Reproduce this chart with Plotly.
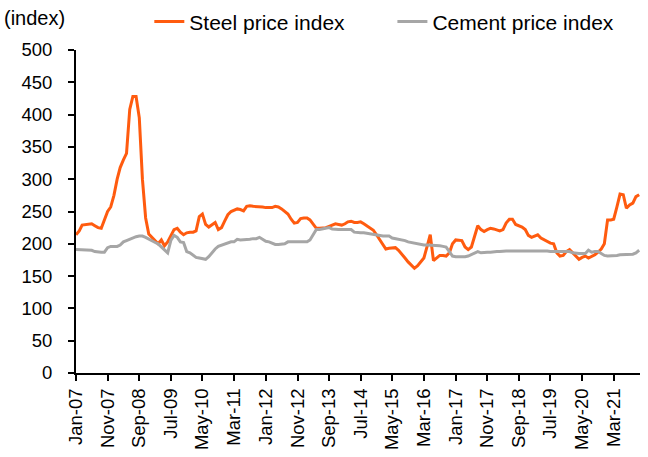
import pandas as pd
import plotly.graph_objects as go

start_month = "2007-01-01"
steel = [214, 220, 229, 230, 231, 231, 228, 225, 224, 236,
         250, 257, 275, 300, 318, 330, 340, 408, 428, 428,
         395, 300, 240, 215, 210, 205, 200, 206, 197, 203,
         212, 222, 224, 218, 214, 217, 218, 218, 220, 242,
         246, 230, 226, 229, 233, 222, 225, 235, 245, 250,
         252, 254, 253, 251, 258, 259, 258, 258, 257, 257,
         256, 256, 256, 258, 257, 254, 250, 246, 238, 232,
         233, 239, 240, 240, 237, 230, 224, 224, 224, 225,
         227, 229, 231, 230, 229, 231, 234, 235, 233, 233,
         234, 231, 228, 224, 221, 214, 206, 198, 192, 193,
         194, 194, 190, 183, 178, 172, 167, 162, 166, 172,
         178, 196, 214, 174, 178, 182, 182, 181, 186, 200,
         206, 205, 205, 195, 191, 195, 210, 228, 222, 219,
         222, 224, 223, 222, 220, 222, 232, 238, 238, 230,
         228, 226, 222, 213, 210, 212, 214, 209, 206, 204,
         201, 200, 186, 181, 182, 188, 191, 186, 181, 176,
         179, 181, 178, 180, 183, 187, 192, 200, 237, 237,
         238, 257, 277, 276, 255, 260, 263, 273, 276]
cement = [191, 191, 191, 191, 190, 190, 188, 187, 187, 187,
          194, 196, 196, 196, 198, 203, 205, 207, 210, 211,
          212, 212, 210, 207, 204, 202, 200, 195, 191, 186,
          205, 213, 210, 203, 202, 188, 186, 183, 179, 178,
          177, 176, 180, 186, 192, 196, 198, 199, 202, 203,
          203, 207, 206, 206, 206, 207, 208, 208, 210, 207,
          204, 203, 201, 199, 199, 199, 200, 203, 203, 203,
          203, 203, 203, 203, 206, 214, 222, 222, 223, 223,
          225, 223, 222, 222, 222, 222, 222, 222, 218, 217,
          217, 217, 216, 215, 214, 213, 213, 212, 212, 212,
          209, 208, 207, 207, 205, 203, 202, 200, 199, 198,
          198, 198, 198, 198, 198, 197, 196, 195, 188, 181,
          180, 180, 179, 180, 181, 183, 186, 188, 186, 187,
          187, 187, 188, 188, 188, 189, 189, 189, 189, 190,
          190, 190, 189, 189, 189, 189, 189, 189, 189, 189,
          188, 188, 188, 188, 188, 188, 188, 186, 185, 185,
          185, 185, 190, 187, 188, 188, 185, 182, 181, 181,
          181, 182, 183, 183, 183, 183, 184, 186, 190]
series_names = ["Steel price index", "Cement price index"]
tick_labels = ["Jan-07", "Nov-07", "Sep-08", "Jul-09", "May-10", "Mar-11",
               "Jan-12", "Nov-12", "Sep-13", "Jul-14", "May-15", "Mar-16",
               "Jan-17", "Nov-17", "Sep-18", "Jul-19", "May-20", "Mar-21"]

dates = pd.date_range(start_month, periods=len(steel), freq="MS")
tick_dates = pd.date_range(start_month, periods=len(tick_labels), freq="10MS")

font = "Liberation Sans, Arial, sans-serif"
fig = go.Figure()
fig.add_trace(go.Scatter(x=dates, y=steel, mode="lines", name=series_names[0],
                         line=dict(color="#FF5B0F", width=3), legend="legend"))
fig.add_trace(go.Scatter(x=dates, y=cement, mode="lines", name=series_names[1],
                         line=dict(color="#A6A6A6", width=3), legend="legend2"))

leg_common = dict(orientation="h", yanchor="middle", xanchor="left",
                  font=dict(size=21, family=font), bgcolor="rgba(0,0,0,0)")
fig.update_layout(
    width=648, height=457,
    margin=dict(l=76, r=8, t=50, b=84, autoexpand=False),
    paper_bgcolor="white", plot_bgcolor="white",
    font=dict(family=font, size=18.5, color="black"),
    showlegend=True,
    legend=dict(x=0.13, y=1.087, **leg_common),
    legend2=dict(x=0.561, y=1.087, **leg_common),
    annotations=[dict(text="(index)", xref="paper", yref="paper", x=-0.131, y=1.099,
                      xanchor="left", yanchor="middle", showarrow=False,
                      font=dict(size=20, family=font))],
)
fig.update_xaxes(
    range=[dates[0], dates[-1] + pd.Timedelta(days=8)],
    tickvals=tick_dates, ticktext=tick_labels, tickangle=-90,
    showline=True, linecolor="black", linewidth=2,
    ticks="outside", ticklen=6, tickwidth=2, tickcolor="black",
    showgrid=False, zeroline=False, automargin=False,
)
fig.update_yaxes(
    range=[0, 500], dtick=50, tick0=0,
    showline=True, linecolor="black", linewidth=2,
    ticks="outside", ticklen=6, tickwidth=2, tickcolor="black",
    ticklabelstandoff=12,
    showgrid=False, zeroline=False, automargin=False,
)
fig.write_html("out.html", config={"displayModeBar": False},
               post_script="document.body.style.margin='0';")
